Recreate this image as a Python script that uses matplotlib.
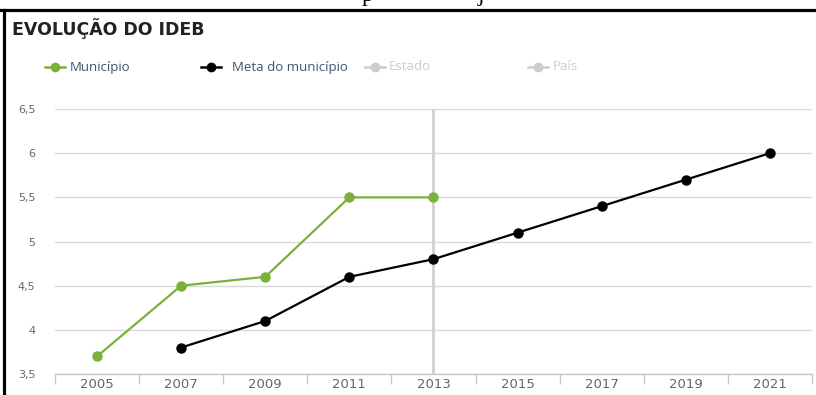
import matplotlib
matplotlib.use("Agg")
import matplotlib.pyplot as plt
from matplotlib.lines import Line2D
import numpy as np

years = ["2005", "2007", "2009", "2011", "2013", "2015", "2017", "2019", "2021"]
municipio = [3.7, 4.5, 4.6, 5.5, 5.5, None, None, None, None]
meta = [None, 3.8, 4.1, 4.6, 4.8, 5.1, 5.4, 5.7, 6.0]
yticks = [3.5, 4, 4.5, 5, 5.5, 6, 6.5]
ylabels = ["3,5", "4", "4,5", "5", "5,5", "6", "6,5"]
legend_labels = ["Município", "Meta do município", "Estado", "País"]
title = "EVOLUÇÃO DO IDEB"

W, H = 816, 395
fig = plt.figure(figsize=(W / 100, H / 100), dpi=100)
fig.patch.set_facecolor("white")

def fx(px):
    return px / W

def fy(py):
    return 1 - py / H

green = "#7bb13a"
black = "#000000"
hidden = "#cccccc"

# axes
left, right, top, bottom = 55, 812, 109, 374
ax = fig.add_axes([fx(left), fy(bottom), fx(right) - fx(left), fy(top) - fy(bottom)])
x = np.arange(len(years))
ax.set_xlim(-0.5, len(years) - 0.5)
ax.set_ylim(3.5, 6.5)

for s in ["top", "right", "left"]:
    ax.spines[s].set_visible(False)
ax.spines["bottom"].set_color("#c8c8c8")
ax.spines["bottom"].set_linewidth(1)

ax.set_yticks(yticks)
ax.set_yticklabels(ylabels)
ax.yaxis.grid(True, color="#d9d9d9", linewidth=1)
ax.tick_params(axis="y", length=0, pad=14, labelsize=8, labelcolor="#666666")

# x ticks at category boundaries, labels centered
ax.set_xticks(np.arange(len(years) + 1) - 0.5)
ax.set_xticklabels([])
ax.set_xticks(x, minor=True)
ax.set_xticklabels(years, minor=True)
ax.tick_params(axis="x", which="major", length=7, color="#c8c8c8", width=1, direction="out")
ax.tick_params(axis="x", which="minor", length=0, pad=3, labelsize=9.5, labelcolor="#666666")
ax.set_axisbelow(True)

# crosshair at 2013
ax.axvline(years.index("2013"), color="#d0d0d0", linewidth=2, zorder=1)

mx = [i for i, v in enumerate(municipio) if v is not None]
my = [v for v in municipio if v is not None]
ax.plot(mx, my, color=green, linewidth=1.6, marker="o", markersize=6.5, zorder=3)
tx = [i for i, v in enumerate(meta) if v is not None]
ty = [v for v in meta if v is not None]
ax.plot(tx, ty, color=black, linewidth=1.6, marker="o", markersize=6.5, zorder=3)

# title
fig.text(fx(12), fy(35), title, fontsize=12.5, fontweight="bold", color="#222222",
         family="DejaVu Sans", va="baseline", ha="left")

# legend (manual)
legend_colors = [green, black, hidden, hidden]
legend_marker_x = [55, 211, 375, 538]
legend_text_x = [70, 232, 389, 553]
legend_text_colors = ["#3b5570", "#3b5570", hidden, hidden]
ly = 67
for lab, c, mxp, txp, tc in zip(legend_labels, legend_colors, legend_marker_x,
                                legend_text_x, legend_text_colors):
    fig.add_artist(Line2D([fx(mxp - 10), fx(mxp + 10)], [fy(ly), fy(ly)], color=c,
                          linewidth=1.8, transform=fig.transFigure))
    fig.add_artist(Line2D([fx(mxp)], [fy(ly)], color=c, marker="o", markersize=6,
                          linestyle="none", transform=fig.transFigure))
    fig.text(fx(txp), fy(ly), lab, fontsize=9.5, color=tc, family="Open Sans",
             va="center", ha="left")

# frame edges from the page
fig.add_artist(Line2D([0, 1], [fy(9.5), fy(9.5)], color="black", linewidth=2.3,
                      transform=fig.transFigure))
fig.add_artist(Line2D([fx(4), fx(4)], [fy(9.5), 0], color="black", linewidth=2.3,
                      transform=fig.transFigure))
# descenders of text above the cropped page
fig.text(fx(362), fy(1), "p", fontsize=17, family="Liberation Serif", va="baseline")
fig.text(fx(478), fy(1), "j", fontsize=17, family="Liberation Serif", va="baseline")

fig.savefig("out.png", dpi=100, facecolor="white")
